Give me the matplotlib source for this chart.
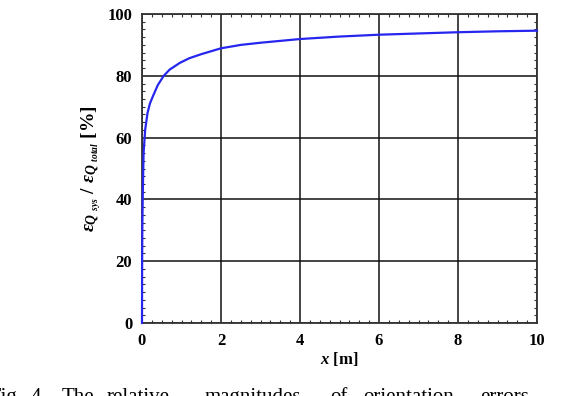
import matplotlib
matplotlib.use("Agg")
import matplotlib.pyplot as plt
from matplotlib.ticker import MultipleLocator

# Data
x_m = [0, 0.003, 0.006, 0.01, 0.02, 0.04, 0.08, 0.14, 0.2, 0.27, 0.4, 0.55, 0.7,
       0.96, 1.2, 1.5, 2, 2.5, 3, 4, 5, 6, 7, 8, 9, 10]
ratio_pct = [0, 18, 26, 33, 42, 55, 62.5, 68, 71, 73.2, 77, 80, 82,
             84.2, 85.7, 87, 88.9, 90.0, 90.7, 91.9, 92.7, 93.3, 93.7, 94.1, 94.4, 94.6]
x_ticks = [0, 2, 4, 6, 8, 10]
y_ticks = [0, 20, 40, 60, 80, 100]
caption_words = ['Fig.', '4.', 'The', 'relative', 'magnitudes', 'of',
                 'orientation', 'errors']
caption_x_px = [-11, 31, 62, 107, 205, 330, 363, 480]

plt.rcParams['font.family'] = ['Liberation Serif', 'DejaVu Serif']
plt.rcParams['mathtext.fontset'] = 'custom'
plt.rcParams['mathtext.rm'] = 'Liberation Serif:bold'
plt.rcParams['mathtext.it'] = 'Liberation Serif:italic:bold'
plt.rcParams['mathtext.bf'] = 'Liberation Serif:bold'

W, H = 563, 396
fig = plt.figure(figsize=(W/100, H/100), dpi=100)
ax = fig.add_axes([142/W, 1 - 323/H, (537-142)/W, (323-14)/H])

ax.plot(x_m, ratio_pct, color='#2626ee', lw=1.6, zorder=3, clip_on=False)

ax.set_xlim(0, 10)
ax.set_ylim(0, 100)
ax.set_xticks(x_ticks)
ax.set_yticks(y_ticks)
ax.set_xticklabels([str(v) for v in x_ticks], fontweight='bold', fontsize=12)
ax.set_yticklabels([str(v) for v in y_ticks], fontweight='bold', fontsize=12)
ax.xaxis.set_minor_locator(MultipleLocator(0.25))
ax.yaxis.set_minor_locator(MultipleLocator(2.5))
ax.tick_params(which='major', direction='in', length=0, pad=7)
ax.tick_params(which='minor', direction='in', length=2.5, width=0.8,
               top=True, right=True, colors='#333333')
ax.grid(True, which='major', color='#111111', lw=1.1)
for s in ax.spines.values():
    s.set_linewidth(1.3)
    s.set_color('#333333')

ax.set_xlabel(r'$x$ [m]', fontweight='bold', fontsize=12, labelpad=1)
ax.set_ylabel(r'$\varepsilon_{Q\ _{sys}}$ / $\varepsilon_{Q\ _{total}}$ [%]',
              fontweight='bold', fontsize=14, labelpad=3)

for w, xp in zip(caption_words, caption_x_px):
    fig.text(xp / W, 1 - 388 / H, w, fontsize=15, va='top', ha='left')

fig.savefig('out.png', dpi=100)
